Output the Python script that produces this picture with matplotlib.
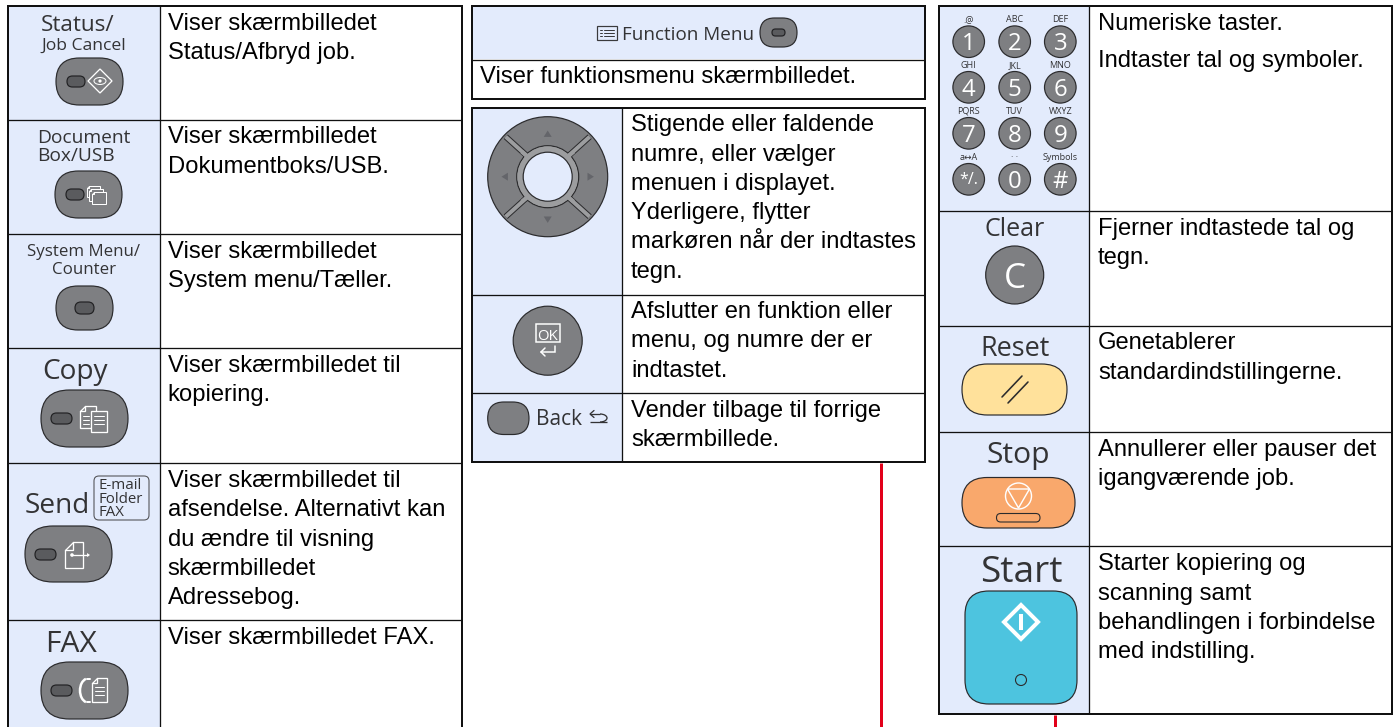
import matplotlib
matplotlib.use("Agg")
import matplotlib.pyplot as plt
from matplotlib.patches import FancyBboxPatch, Circle, Polygon, Rectangle, Ellipse, Arc

BODY_FONT = "Liberation Sans"
LABEL_FONT = "Open Sans"
CELL = "#E3EBFC"
GRAY = "#7E7F82"
DARK = "#2B2B2D"
INK = "#333335"
BAND = "#9C9D9F"

# ---- texts of the three panels ----
left_desc = [
    ["Viser skærmbilledet", "Status/Afbryd job."],
    ["Viser skærmbilledet", "Dokumentboks/USB."],
    ["Viser skærmbilledet", "System menu/Tæller."],
    ["Viser skærmbilledet til", "kopiering."],
    ["Viser skærmbilledet til", "afsendelse. Alternativt kan", "du ændre til visning", "skærmbilledet", "Adressebog."],
    ["Viser skærmbilledet FAX."],
]
mid_head = "Function Menu"
mid_head_desc = "Viser funktionsmenu skærmbilledet."
mid_desc = [
    ["Stigende eller faldende", "numre, eller vælger", "menuen i displayet.", "Yderligere, flytter", "markøren når der indtastes", "tegn."],
    ["Afslutter en funktion eller", "menu, og numre der er", "indtastet."],
    ["Vender tilbage til forrige", "skærmbillede."],
]
right_desc = [
    ["Numeriske taster.", "Indtaster tal og symboler."],
    ["Fjerner indtastede tal og", "tegn."],
    ["Genetablerer", "standardindstillingerne."],
    ["Annullerer eller pauser det", "igangværende job."],
    ["Starter kopiering og", "scanning samt", "behandlingen i forbindelse", "med indstilling."],
]
key_digits = ["1", "2", "3", "4", "5", "6", "7", "8", "9", "*/.", "0", "#"]
key_letters = [".@", "ABC", "DEF", "GHI", "JKL", "MNO", "PQRS", "TUV", "WXYZ", "a↔A", "· ·", "Symbols"]

fig = plt.figure(figsize=(13.95, 7.27), dpi=100, facecolor="white")
ax = fig.add_axes([0, 0, 1, 1])
ax.set_xlim(0, 1395)
ax.set_ylim(727, 0)
ax.axis("off")


def pt(px):
    return px * 0.72


def body(x, baselines, lines):
    for y, s in zip(baselines, lines):
        ax.text(x, y, s, family=BODY_FONT, fontsize=17.1, color="#000000", ha="left", va="baseline", zorder=6)


def label(x, y, s, px, ha="left", color=INK, va="baseline"):
    ax.text(x, y, s, family=[LABEL_FONT, "DejaVu Sans"], fontsize=pt(px), color=color, ha=ha, va=va, zorder=6)


def line(xs, ys, w=1.5, c="white", z=5, cap="round"):
    ax.plot(xs, ys, color=c, lw=pt(w), zorder=z, solid_capstyle=cap, solid_joinstyle="miter")


def rrect(x0, y0, x1, y1, r, fc=GRAY, ec=DARK, w=1.2, z=3):
    ax.add_patch(FancyBboxPatch((x0, y0), x1 - x0, y1 - y0, boxstyle=f"round,pad=0,rounding_size={r}",
                                fc=fc, ec=ec, lw=pt(w), zorder=z))


def pill(x0, y0, x1, y1, inner=None):
    rrect(x0, y0, x1, y1, (y1 - y0) / 2 - 0.01)
    if inner:
        a, b, c, d = inner
        rrect(a, b, c, d, (d - b) / 2 - 0.01, fc="#5A5B5E", ec="#222224", w=1.2, z=4)


def circ(cx, cy, r, fc=GRAY, ec=DARK, w=1.2, z=3):
    ax.add_patch(Circle((cx, cy), r, fc=fc, ec=ec, lw=pt(w), zorder=z))


def doc(x0, y0, x1, y1, fold=5, w=1.3, fc=GRAY, z=5):
    ax.add_patch(Polygon([(x0 + fold, y0), (x1, y0), (x1, y1), (x0, y1), (x0, y0 + fold)], closed=True,
                         fc=fc, ec="white", lw=pt(w), zorder=z))
    if fold:
        line([x0 + fold, x0 + fold, x0], [y0, y0 + fold, y0 + fold], w, z=z)


def table(x0, x1, y0, y1, vx, hlines, clip_bottom=False):
    if vx is not None:
        ax.add_patch(Rectangle((x0, y0), vx - x0, y1 - y0, fc=CELL, ec="none", zorder=1))
    for y in hlines:
        line([x0, x1], [y, y], 1.3, "#111111", 2, "butt")
    if vx is not None:
        line([vx, vx], [y0, y1], 1.3, "#111111", 2, "butt")
    line([x0, x0, x1, x1], [y1, y0, y0, y1], 2.0, "#111111", 7, "projecting")
    if not clip_bottom:
        line([x0, x1], [y1, y1], 2.0, "#111111", 7, "projecting")


# ---------------------------------------- tables
table(7.5, 461.5, 6, 728, 159.5, [120, 234, 348, 463, 620], clip_bottom=True)
ax.add_patch(Rectangle((473, 7), 451, 52, fc=CELL, ec="none", zorder=1))
table(472, 925, 6, 99, None, [59.5])
table(472, 925, 108, 462, 622, [294.5, 392.5])
table(939, 1392, 6, 714, 1089, [211, 325.5, 432, 546])
line([881, 881], [463, 728], 3, "#E2001A", 1, "butt")
line([1054.5, 1054.5], [715, 728], 3, "#E2001A", 1, "butt")

# ---------------------------------------- description text
for bl, t in zip([[30, 59], [143, 173], [258, 287], [372, 401], [487, 516, 546, 575, 604], [644]], left_desc):
    body(167.5, bl, t)
body(480.5, [83], [mid_head_desc])
for bl, t in zip([[130.5, 160.5, 190, 219, 248.5, 278], [318, 347.5, 377], [417, 446]], mid_desc):
    body(631, bl, t)
for bl, t in zip([[30, 66.5], [235, 264], [349, 379], [456, 485], [570, 600, 629, 658]], right_desc):
    body(1098, bl, t)

# ---------------------------------------- left column
label(41, 31, "Status/", 22.5)
label(41, 50, "Job Cancel", 17.5)
pill(56, 58, 123, 105, (67, 76, 85, 87))
ax.add_patch(Polygon([(100, 69), (112, 81), (100, 93), (88, 81)], closed=True, fc="none", ec="white", lw=pt(1.3), zorder=5))
ax.add_patch(Ellipse((100, 81), 12, 7, fc="none", ec="white", lw=pt(1), zorder=5))
circ(100, 81, 1.6, fc="white", ec="none", z=5)

label(37, 143, "Document", 19.2)
label(37, 161, "Box/USB", 19.2)
pill(55, 171, 122, 218, (66, 189, 84, 200))
for d in range(3):
    doc(86.5 + d * 2.5, 186 + d * 3, 99.5 + d * 3, 197 + d * 3.5, fold=2, w=1)

label(84, 256.5, "System Menu/", 16.9, ha="center")
label(84, 274, "Counter", 16.9, ha="center")
pill(56, 286, 113, 330, (75, 302, 94, 314))

label(42, 379, "Copy", 28)
pill(41, 390, 128, 447, (51, 413, 72, 424))
doc(80, 406, 96, 428, fold=5)
for y in (416, 420, 424):
    line([83, 89], [y, y], 1)
doc(91, 411, 106.5, 432, fold=0)
for y in (416, 420, 424):
    line([94, 104], [y, y], 1)

label(25, 513, "Send", 28)
rrect(94, 476, 149, 520, 5, fc=CELL, ec="#55565A", w=1.1)
for y, s in zip([489, 503, 516.5], ["E-mail", "Folder", "FAX"]):
    label(99, y, s, 15)
pill(25, 526, 112, 582, (35, 549, 56, 560))
doc(64.5, 541.5, 83, 567.5, fold=8)
line([72, 88], [555, 555], 1.3)
circ(72, 555, 1.8, fc="white", ec="none", z=5)
ax.add_patch(Polygon([(87, 553), (90, 555), (87, 557)], closed=True, fc="white", ec="none", zorder=5))

label(45, 652.5, "FAX", 30)
pill(41, 662, 128, 719, (51, 685, 72, 696))
doc(92, 678, 107, 702, fold=5)
for y in (687, 691, 695):
    line([95, 104], [y, y], 1)
ax.add_patch(Arc((88, 690.5), 16, 24, theta1=100, theta2=260, ec="white", lw=pt(2.5), zorder=5))
line([86.5, 90], [679, 679], 2)
line([86.5, 90], [702, 702], 2)

# ---------------------------------------- middle column
ax.add_patch(Rectangle((597, 26), 20, 14, fc="none", ec="#3A3A3C", lw=pt(1.2), zorder=5))
for y in (30, 33, 36):
    line([600, 602], [y, y], 1, "#3A3A3C")
    line([603.5, 614], [y, y], 1, "#3A3A3C")
label(621.5, 40, mid_head, 18.9)
pill(760, 18, 797, 47, (772, 29, 785, 36))

# joystick
jx, jy = 547.7, 176.7
circ(jx, jy, 60)
for sx in (-1, 1):
    for sy in (-1, 1):
        xs = [jx + sx * 21, jx + sx * 42]
        ys = [jy + sy * 21, jy + sy * 40]
        line(xs, ys, 6, DARK, 4, "butt")
        line(xs, ys, 4, BAND, 4.1, "butt")
circ(jx, jy, 31, fc=BAND, ec=DARK, w=1.2, z=4.05)
ax.add_patch(Circle((jx, jy), 30.2, fc=BAND, ec="none", zorder=4.2))
for sx in (-1, 1):
    for sy in (-1, 1):
        xs = [jx + sx * 20, jx + sx * 26]
        ys = [jy + sy * 20, jy + sy * 25]
        line(xs, ys, 4, BAND, 4.25, "butt")
circ(jx, jy, 24.5, fc=CELL, ec=DARK, w=1.2, z=4.3)
for dx, dy in [(0, -43), (0, 43), (-43, 0), (43, 0)]:
    s = 4
    if dx == 0:
        sign = -1 if dy < 0 else 1
        pts = [(jx - s, jy + dy - sign * s * 0.8), (jx + s, jy + dy - sign * s * 0.8), (jx, jy + dy + sign * s * 0.8)]
    else:
        sign = -1 if dx < 0 else 1
        pts = [(jx + dx - sign * s * 0.8, jy - s), (jx + dx - sign * s * 0.8, jy + s), (jx + dx + sign * s * 0.8, jy)]
    ax.add_patch(Polygon(pts, closed=True, fc="#64656A", ec="none", zorder=5))

# OK
circ(547.7, 340.7, 34.5)
ax.add_patch(Rectangle((536, 324), 24, 18, fc="none", ec="white", lw=pt(1.5), zorder=5))
label(548, 339.5, "OK", 15, ha="center", color="white")
line([555, 555, 541], [346, 352, 352], 1.5)
line([545, 541, 545], [348, 352, 356], 1.5)

# Back
pill(487.7, 402, 529, 434.5)
label(536.5, 425, "Back", 20.9)
line([590, 607], [422, 422], 1.3, INK, cap="butt")
ax.add_patch(Arc((600, 418), 14, 8, theta1=-90, theta2=90, ec=INK, lw=pt(1.3), zorder=5))
line([590, 600], [414, 414], 1.3, INK, cap="butt")
line([594, 590, 594], [410.5, 414, 417.5], 1.3, INK)

# ---------------------------------------- right column
kx = [968.7, 1014.7, 1060.3]
ky = [41.7, 87.3, 133.3, 179.3]
for i, (d, t) in enumerate(zip(key_digits, key_letters)):
    x, y = kx[i % 3], ky[i // 3]
    circ(x, y, 15.8)
    label(x, y + 8.5 if len(d) == 1 else y + 5, d, 24 if len(d) == 1 else 16, ha="center", color="white")
    label(x, y - 19.5, t, 9, ha="center")

label(1015, 236.5, "Clear", 25, ha="center")
circ(1014.7, 275, 29)
label(1014.7, 287.5, "C", 35, ha="center", color="white")

label(1015, 356, "Reset", 27, ha="center")
rrect(962, 364, 1067, 415, 25.4, fc="#FFE19B")
line([1002, 1022], [397, 376], 1.6, DARK)
line([1008, 1028], [403, 382], 1.6, DARK)

label(1018, 463, "Stop", 30, ha="center")
rrect(962, 477.5, 1075, 528, 25.2, fc="#F9A86C")
circ(1018.5, 496, 13, fc="none", ec="white", w=1.4, z=5)
ax.add_patch(Polygon([(1007.5, 489), (1029.5, 489), (1018.5, 508)], closed=True, fc="none", ec="white", lw=pt(1.4), zorder=5))
rrect(996.5, 513.5, 1040, 522, 4.2, fc="#F9A86C", ec=DARK, w=1.1, z=4)

label(1021, 582.5, "Start", 37, ha="center")
rrect(965, 591, 1077, 704, 24, fc="#4DC4DF")
ax.add_patch(Polygon([(1021, 605), (1038, 622), (1021, 639), (1004, 622)], closed=True, fc="none", ec="white", lw=pt(4), zorder=5))
ax.add_patch(Rectangle((1019.2, 614), 3.6, 16, fc="white", ec="none", zorder=5))
circ(1021, 680, 5.5, fc="none", ec=DARK, w=1.1, z=5)

fig.savefig("out.png", dpi=100, facecolor="white")
